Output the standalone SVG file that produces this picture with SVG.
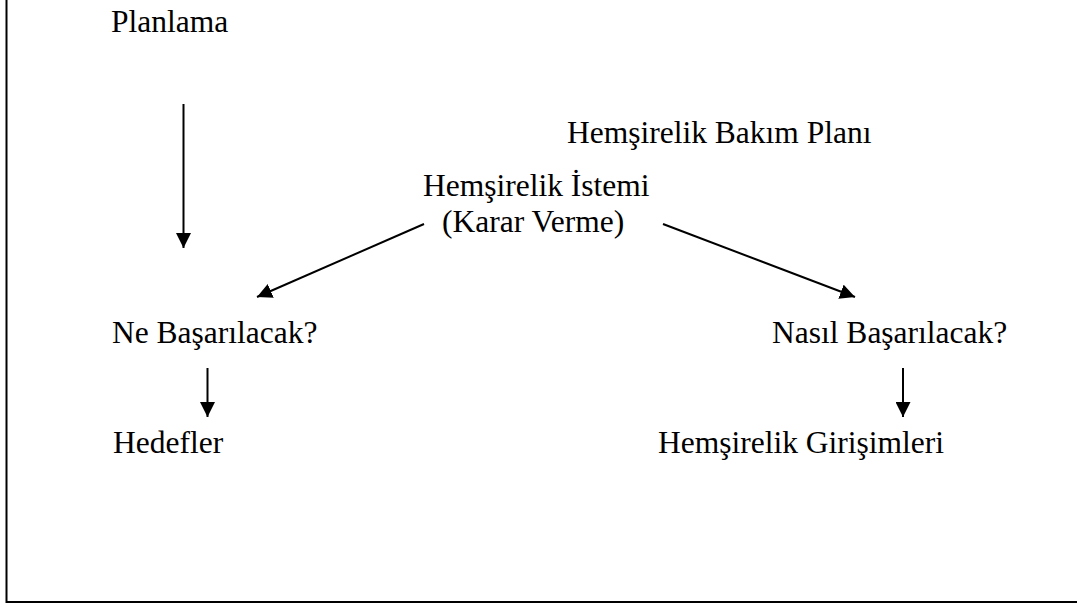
<svg xmlns="http://www.w3.org/2000/svg" width="1077" height="608" viewBox="0 0 1077 608">
<defs>
<marker id="ah" viewBox="0 0 10 10" refX="10" refY="5" markerWidth="15" markerHeight="15" markerUnits="userSpaceOnUse" orient="auto">
<path d="M0,0 L10,5 L0,10 Z" fill="#000"/>
</marker>
</defs>
<style>
text{font-family:"Liberation Serif","Times New Roman",serif;font-size:31.5px;fill:#000}
.c{stroke:#000;stroke-width:2;fill:none;marker-end:url(#ah)}
</style>
<rect width="1077" height="608" fill="#fff"/>
<path d="M6.5,-2 L6.5,602 L1080,602" stroke="#000" stroke-width="2" fill="none"/>
<g id="planlama"><text x="111" y="32">Planlama</text></g>
<g id="bakim-plani"><text x="567" y="143">Hemşirelik Bakım Planı</text></g>
<g id="istem"><text x="423" y="196">Hemşirelik İstemi</text><text x="442" y="232">(Karar Verme)</text></g>
<g id="ne"><text x="112" y="343">Ne Başarılacak?</text></g>
<g id="nasil"><text x="772" y="343">Nasıl Başarılacak?</text></g>
<g id="hedefler"><text x="113" y="453">Hedefler</text></g>
<g id="girisimler"><text x="658" y="453">Hemşirelik Girişimleri</text></g>
<g id="connectors">
<line class="c" x1="183.5" y1="104" x2="183.5" y2="248"/>
<line class="c" x1="424" y1="224" x2="257" y2="297"/>
<line class="c" x1="663" y1="224" x2="855" y2="297"/>
<line class="c" x1="207.5" y1="368" x2="207.5" y2="417"/>
<line class="c" x1="903" y1="368" x2="903" y2="417"/>
</g>
</svg>
